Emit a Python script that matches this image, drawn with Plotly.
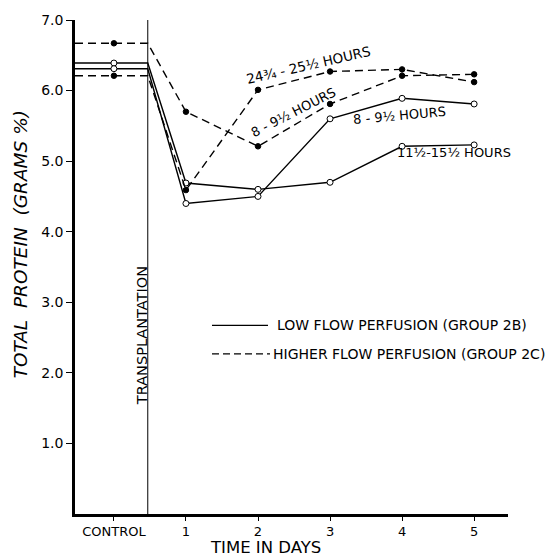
import plotly.graph_objects as go

# ---- data ----
days = [1, 2, 3, 4, 5]
control_pos = 0
transplant_pos = 0.47
x_start = -0.54

low_11_control = 6.39
low_11 = [4.69, 4.60, 4.70, 5.21, 5.23]      # 11 1/2 - 15 1/2 hours (solid)
low_8_control = 6.31
low_8 = [4.40, 4.50, 5.60, 5.89, 5.81]       # 8 - 9 1/2 hours (solid)
high_24_control = 6.21
high_24 = [4.59, 6.01, 6.27, 6.30, 6.12]     # 24 3/4 - 25 1/2 hours (dashed)
high_8_control = 6.67
high_8 = [5.70, 5.21, 5.81, 6.21, 6.23]      # 8 - 9 1/2 hours (dashed)

y_tickvals = [1, 2, 3, 4, 5, 6, 7]
y_ticktext = ["1.0", "2.0", "3.0", "4.0", "5.0", "6.0", "7.0"]
x_tickvals = [0, 1, 2, 3, 4, 5]
x_ticktext = ["CONTROL", "1", "2", "3", "4", "5"]

FONT = "DejaVu Sans"
NB = "\u00a0"
fig = go.Figure()

series = [
    (low_11_control, low_11, "solid", False),
    (low_8_control, low_8, "solid", False),
    (high_24_control, high_24, "8px,5px", True),
    (high_8_control, high_8, "8px,5px", True),
]
for ctrl, vals, dash, filled in series:
    xs = [x_start, transplant_pos] + days
    ys = [ctrl, ctrl] + vals
    fig.add_trace(go.Scatter(x=xs, y=ys, mode="lines",
                             line=dict(color="black", width=1.4, dash=dash),
                             showlegend=False, hoverinfo="skip"))
    fig.add_trace(go.Scatter(x=[control_pos] + days, y=[ctrl] + vals, mode="markers",
                             marker=dict(size=6 if not filled else 5.5,
                                         color="black" if filled else "white",
                                         line=dict(color="black", width=1)),
                             showlegend=False, hoverinfo="skip"))

# transplantation line
fig.add_trace(go.Scatter(x=[transplant_pos, transplant_pos], y=[0, 7.0], mode="lines",
                         line=dict(color="black", width=1), showlegend=False,
                         hoverinfo="skip"))

fig.update_layout(
    width=556, height=557,
    margin=dict(l=75, r=48, t=14, b=43),
    paper_bgcolor="white", plot_bgcolor="white",
    font=dict(family=FONT, color="black"),
    xaxis=dict(range=[x_start, 5.47], tickvals=x_tickvals, ticktext=x_ticktext,
               showline=True, linecolor="black", linewidth=2.5, ticks="outside",
               ticklen=4, tickcolor="black", showgrid=False, zeroline=False,
               tickfont=dict(size=13, family=FONT)),
    yaxis=dict(range=[0, 7.0], tickvals=y_tickvals, ticktext=y_ticktext,
               showline=True, linecolor="black", linewidth=2.5, ticks="outside",
               ticklen=6, tickcolor="black", showgrid=False, zeroline=False,
               tickfont=dict(size=14, family=FONT)),
)

def px_x(p):
    return (p - 75) / 433.0

def px_y(p):
    return (514 - p) / 500.0

ann = []
ann.append(dict(text="TIME" + NB + "IN" + NB + "DAYS", x=px_x(265), y=px_y(548), xref="paper", yref="paper",
                showarrow=False, font=dict(size=16.5), xanchor="center", yanchor="middle"))
ann.append(dict(text="<i>TOTAL" + NB * 2 + "PROTEIN" + NB * 2 + "(GRAMS" + NB + "%)</i>",
                x=px_x(20), y=px_y(241), xref="paper",
                yref="paper", showarrow=False, textangle=-90, font=dict(size=18.5),
                xanchor="center", yanchor="middle"))
ann.append(dict(text="TRANSPLANTATION", x=px_x(142), y=px_y(334), xref="paper", yref="paper",
                showarrow=False, textangle=-90, font=dict(size=14.5),
                xanchor="center", yanchor="middle"))
ann.append(dict(text="24¾ - 25½ HOURS", x=px_x(308), y=px_y(60), xref="paper", yref="paper",
                showarrow=False, textangle=-13, font=dict(size=13.5),
                xanchor="center", yanchor="middle"))
ann.append(dict(text="8 - 9½ HOURS", x=px_x(293), y=px_y(108), xref="paper", yref="paper",
                showarrow=False, textangle=-27, font=dict(size=13),
                xanchor="center", yanchor="middle"))
ann.append(dict(text="8 - 9½ HOURS", x=px_x(399), y=px_y(111), xref="paper", yref="paper",
                showarrow=False, textangle=-5, font=dict(size=13),
                xanchor="center", yanchor="middle"))
ann.append(dict(text="11½-15½ HOURS", x=px_x(454), y=px_y(148), xref="paper", yref="paper",
                showarrow=False, textangle=0, font=dict(size=13),
                xanchor="center", yanchor="middle"))
ann.append(dict(text="LOW FLOW PERFUSION (GROUP 2B)", x=px_x(275), y=px_y(323), xref="paper",
                yref="paper", showarrow=False, font=dict(size=14),
                xanchor="left", yanchor="middle"))
ann.append(dict(text="HIGHER FLOW PERFUSION (GROUP 2C)", x=px_x(271), y=px_y(352), xref="paper",
                yref="paper", showarrow=False, font=dict(size=14),
                xanchor="left", yanchor="middle"))
fig.update_layout(annotations=ann)

fig.add_shape(type="line", xref="paper", yref="paper", x0=px_x(212), x1=px_x(268),
              y0=px_y(323), y1=px_y(323), line=dict(color="black", width=1.2))
fig.add_shape(type="line", xref="paper", yref="paper", x0=px_x(212), x1=px_x(270),
              y0=px_y(352), y1=px_y(352), line=dict(color="black", width=1.2, dash="7px,4px"))

fig.write_html("out.html")
